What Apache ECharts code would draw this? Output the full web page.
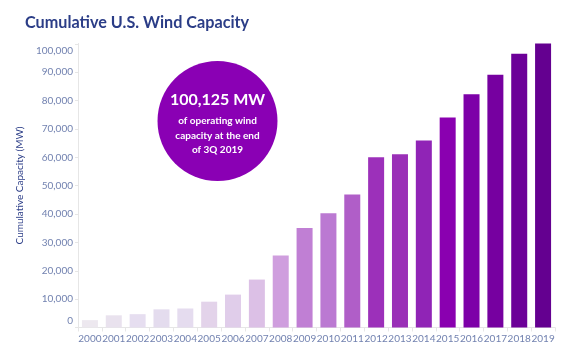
<!DOCTYPE html>
<html>
<head>
<meta charset="utf-8">
<script src="https://cdn.jsdelivr.net/npm/echarts@6/dist/echarts.min.js"></script>
<style>html,body{margin:0;padding:0;background:#fff}#c{width:571px;height:357px}</style>
</head>
<body>
<div id="c"></div>
<script>
const years = ['2000','2001','2002','2003','2004','2005','2006','2007','2008','2009','2010','2011','2012','2013','2014','2015','2016','2017','2018','2019'];
const capacityMW = [2600, 4300, 4700, 6400, 6700, 9100, 11600, 16900, 25400, 35100, 40300, 46900, 60000, 61100, 65900, 74000, 82200, 89100, 96500, 100125];
const yTicks = [0, 10000, 20000, 30000, 40000, 50000, 60000, 70000, 80000, 90000, 100000];
const barColors = ['#ede8ef','#e9e2ee','#e6def0','#e4dcee','#e5dcef','#e3d3ea','#e0cdea','#dcc0e6','#cf9ede','#c07fd4','#bb79d2','#b05ec8','#9c30ba','#9a2fb7','#9024b6','#8a00b0','#7d00a8','#7600a0','#6c0098','#640090'];

const FONT = 'Lato';
const labelColor = '#7282b0';
const chart = echarts.init(document.getElementById('c'), null, {renderer: 'canvas'});
chart.setOption({
  animation: false,
  backgroundColor: '#fff',
  title: {
    text: 'Cumulative U.S. Wind Capacity',
    left: 20, top: 10,
    textStyle: {fontFamily: FONT, fontWeight: 'bold', fontSize: 16.2, color: '#2b3d87'}
  },
  grid: {left: 78, right: 16, top: 43.5, bottom: 29.5, outerBoundsMode: 'none'},
  xAxis: {
    type: 'category',
    data: years,
    axisLine: {show: true, lineStyle: {color: '#e6e6e6', width: 1}},
    axisTick: {show: true, alignWithLabel: false, length: 4, lineStyle: {color: '#e6e6e6'}},
    axisLabel: {fontFamily: FONT, fontSize: 10, color: labelColor, margin: 6, interval: 0}
  },
  yAxis: {
    type: 'value',
    min: 0, max: 100125, interval: 10000,
    name: 'Cumulative Capacity (MW)',
    nameLocation: 'middle', nameRotate: 90, nameGap: 46,
    nameTextStyle: {fontFamily: FONT, fontSize: 10, color: '#2b3d87'},
    axisLine: {show: true, lineStyle: {color: '#e6e6e6', width: 1}},
    axisTick: {show: true, length: 3, lineStyle: {color: '#e6e6e6'}},
    splitLine: {show: false},
    axisLabel: {
      fontFamily: FONT, fontSize: 10, color: labelColor, margin: 5,
      showMaxLabel: false,
      formatter: function (v) {
        if (yTicks.indexOf(v) < 0) return '';
        const s = v.toLocaleString('en-US');
        if (v === 100000) return '{t|' + s + '}';
        if (v === 0) return '{b|' + s + '}';
        return s;
      },
      rich: {
        t: {fontFamily: FONT, fontSize: 10, color: labelColor, padding: [14, 0, 0, 0]},
        b: {fontFamily: FONT, fontSize: 10, color: labelColor, padding: [0, 0, 14, 0]}
      }
    }
  },
  series: [{
    type: 'bar',
    data: capacityMW,
    barWidth: 16,
    itemStyle: {color: function (p) { return barColors[p.dataIndex]; }}
  }],
  graphic: [
    {type: 'circle', shape: {cx: 217.5, cy: 121, r: 60}, style: {fill: '#8a00b4'}, z: 10},
    {type: 'text', x: 217.5, y: 100, style: {text: '100,125 MW', fill: '#fff', font: 'bold 16px ' + FONT, textAlign: 'center', textVerticalAlign: 'middle'}, z: 11},
    {type: 'text', x: 217.5, y: 121, style: {text: 'of operating wind', fill: '#fff', font: 'bold 10px ' + FONT, textAlign: 'center', textVerticalAlign: 'middle'}, z: 11},
    {type: 'text', x: 217.5, y: 135.5, style: {text: 'capacity at the end', fill: '#fff', font: 'bold 10px ' + FONT, textAlign: 'center', textVerticalAlign: 'middle'}, z: 11},
    {type: 'text', x: 217.5, y: 150, style: {text: 'of 3Q 2019', fill: '#fff', font: 'bold 10px ' + FONT, textAlign: 'center', textVerticalAlign: 'middle'}, z: 11}
  ]
});
</script>
</body>
</html>
